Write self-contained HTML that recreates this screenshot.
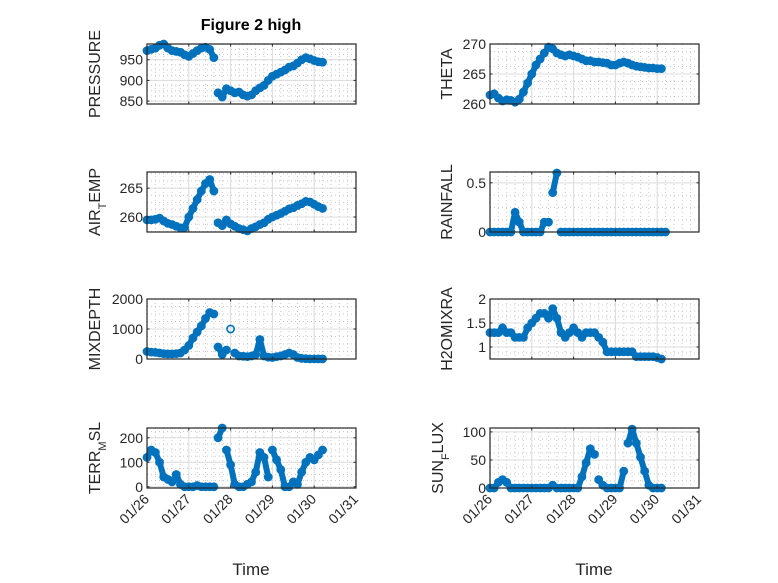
<!DOCTYPE html>
<html><head><meta charset="utf-8"><style>
body{margin:0;background:#fff;}
svg{display:block;font-family:"Liberation Sans","DejaVu Sans",sans-serif;}
</style></head><body>
<svg id="fig" width="778" height="583" viewBox="0 0 778 583">
<text x="251" y="30" text-anchor="middle" font-weight="bold" font-size="16" fill="#000">Figure 2 high</text>
<text x="251" y="575" text-anchor="middle" font-size="17" fill="#262626">Time</text>
<text x="594" y="575" text-anchor="middle" font-size="17" fill="#262626">Time</text>
</svg>
<script>
const xTickLabels = ["01/26","01/27","01/28","01/29","01/30","01/31"];
const pressure = [972,975,978,985,988,978,972,970,968,962,958,965,972,978,980,975,955,870,860,880,875,870,872,865,862,865,875,882,888,900,910,915,920,925,932,935,942,950,955,952,948,945,944];
const theta = [261.5,261.7,261,260.5,260.7,260.6,260.3,260.8,262,263.5,265,266.5,267.5,268.5,269.5,269.2,268.5,268.2,268,268.2,268,267.8,267.5,267.2,267.2,267,267,266.9,266.8,266.5,266.5,266.8,267,266.8,266.5,266.3,266.2,266.1,266,266,265.9,265.9];
const airTemp = [259.5,259.5,259.6,259.8,259.3,258.9,258.7,258.4,258.1,258.2,260,261.5,263,264.5,265.8,266.5,264.5,259,258.5,259.5,258.8,258.4,258,257.8,257.6,258,258.3,258.7,259,259.6,260,260.3,260.6,261,261.4,261.6,262,262.3,262.7,262.6,262.2,261.8,261.5];
const rainfall = [0,0,0,0,0,0,0.2,0.1,0,0,0,0,0,0.1,0.1,0.4,0.6,0,0,0,0,0,0,0,0,0,0,0,0,0,0,0,0,0,0,0,0,0,0,0,0,0,0];
const mixDepth = [250,230,220,200,180,170,170,180,200,300,450,700,900,1100,1350,1550,1500,400,150,300,1000,200,100,90,80,100,150,650,100,60,50,80,100,150,200,150,50,20,10,5,5,5,5];
const h2oMix = [1.3,1.3,1.3,1.4,1.3,1.3,1.2,1.2,1.2,1.4,1.5,1.6,1.7,1.7,1.6,1.8,1.6,1.3,1.2,1.3,1.4,1.3,1.2,1.3,1.3,1.3,1.2,1.1,0.9,0.9,0.9,0.9,0.9,0.9,0.9,0.8,0.8,0.8,0.8,0.8,0.78,0.75];
const terrMsl = [120,150,140,100,40,30,20,50,10,0,0,0,5,0,0,0,0,200,240,150,90,10,0,0,10,20,60,140,120,40,150,110,70,0,0,20,10,60,100,120,110,130,150];
const sunFlux = [0,0,10,15,10,0,0,0,0,0,0,0,0,0,0,5,0,0,0,0,0,0,20,45,70,60,15,5,0,0,0,0,30,80,105,80,55,30,5,0,0,0];
const pressureTicks=[850,900,950], thetaTicks=[260,265,270], airTicks=[260,265], rainTicks=[0,0.5], mixTicks=[0,1000,2000], h2oTicks=[1,1.5,2], terrTicks=[0,100,200], sunTicks=[0,50,100];

const NS="http://www.w3.org/2000/svg";
const svg=document.getElementById('fig');
function mk(tag,attrs,parent){const e=document.createElementNS(NS,tag);for(const k in attrs)e.setAttribute(k,attrs[k]);(parent||svg).appendChild(e);return e;}

const panels=[
 {name:'pressure',x:147,y:44,lab:['PRESSURE'],data:pressure,ticks:pressureTicks,ymin:843,ymax:988},
 {name:'theta',x:490,y:44,lab:['THETA'],data:theta,ticks:thetaTicks,ymin:260,ymax:270},
 {name:'air-temp',x:147,y:172,lab:['AIR','T','EMP'],data:airTemp,ticks:airTicks,ymin:257.4,ymax:267.8},
 {name:'rainfall',x:490,y:172,lab:['RAINFALL'],data:rainfall,ticks:rainTicks,ymin:0,ymax:0.61},
 {name:'mixdepth',x:147,y:299,lab:['MIXDEPTH'],data:mixDepth,ticks:mixTicks,ymin:0,ymax:2000},
 {name:'h2omixra',x:490,y:299,lab:['H2OMIXRA'],data:h2oMix,ticks:h2oTicks,ymin:0.75,ymax:2},
 {name:'terr-msl',x:147,y:428,lab:['TERR','M','SL'],data:terrMsl,ticks:terrTicks,ymin:-5,ymax:240},
 {name:'sun-flux',x:490,y:428,lab:['SUN','F','LUX'],data:sunFlux,ticks:sunTicks,ymin:0,ymax:107},
];
const W=209,H=60,XMAX=5,DT=0.1;
panels.forEach((p,pi)=>{
  const g=mk('g',{});
  
  
  const sx=d=>p.x+d/XMAX*W;
  const sy=v=>p.y+H-(v-p.ymin)/(p.ymax-p.ymin)*H;
  mk('rect',{x:p.x,y:p.y,width:W,height:H,fill:'#fff'},g);
  for(let d=0;d<=XMAX;d+=0.2){const X=sx(d);mk('line',{x1:X,x2:X,y1:p.y,y2:p.y+H,stroke:'#c8c8c8','stroke-dasharray':'1 3','stroke-width':1},g);}
  const step=p.ticks[1]-p.ticks[0];
  for(let v=p.ticks[0]-step;v<=p.ymax;v+=step/4){if(v<p.ymin)continue;const Y=sy(v);mk('line',{x1:p.x,x2:p.x+W,y1:Y,y2:Y,stroke:'#c8c8c8','stroke-dasharray':'1 3','stroke-width':1},g);}
  xTickLabels.forEach((t,i)=>{const X=sx(i);mk('line',{x1:X,x2:X,y1:p.y,y2:p.y+H,stroke:'#dcdcdc','stroke-width':1},g);});
  p.ticks.forEach(v=>{const Y=sy(v);mk('line',{x1:p.x,x2:p.x+W,y1:Y,y2:Y,stroke:'#dcdcdc','stroke-width':1},g);});
  const sg=mk('g',{},g);
  
  
  for(let i=1;i<p.data.length;i++){
    const x1=sx((i-1)*DT),y1=sy(p.data[i-1]),x2=sx(i*DT),y2=sy(p.data[i]);
    if(Math.abs(y2-y1)<20){
      const l=mk('line',{x1:x1,y1:y1,x2:x2,y2:y2,stroke:'#0072BD','stroke-width':6,'stroke-linecap':'round'},sg);
      
      
    }
  }
  p.data.forEach((v,i)=>{
    const c=mk('circle',{cx:sx(i*DT),cy:sy(v),r:3.6,fill:'none',stroke:'#0072BD','stroke-width':1.6},sg);
    
    
  });
  mk('rect',{x:p.x,y:p.y,width:W,height:H,fill:'none',stroke:'#262626','stroke-width':1.2},g);
  xTickLabels.forEach((t,i)=>{const X=sx(i);
    mk('line',{x1:X,x2:X,y1:p.y+H,y2:p.y+H-2.5,stroke:'#262626'},g);
    mk('line',{x1:X,x2:X,y1:p.y,y2:p.y+2.5,stroke:'#262626'},g);
    if(pi>=6){const tx=mk('text',{x:X+3,y:p.y+H+12,'text-anchor':'end','font-size':14,fill:'#262626',transform:`rotate(-45 ${X+3} ${p.y+H+12})`},g);tx.textContent=t;
      
      }
  });
  p.ticks.forEach(v=>{const Y=sy(v);
    mk('line',{x1:p.x,x2:p.x+2.5,y1:Y,y2:Y,stroke:'#262626'},g);
    mk('line',{x1:p.x+W,x2:p.x+W-2.5,y1:Y,y2:Y,stroke:'#262626'},g);
    const tx=mk('text',{x:p.x-4,y:Y+5,'text-anchor':'end','font-size':14,fill:'#262626'},g);tx.textContent=String(v);
    
    
  });
  const lx=p.x-(p.name==='rainfall'||p.name==='h2omixra'||p.name==='theta'?38:47), ly=p.y+H/2;
  const t=mk('text',{x:lx,y:ly,'text-anchor':'middle','font-size':16,fill:'#262626',transform:`rotate(-90 ${lx} ${ly})`},g);
  
  
  if(p.lab.length===1){t.textContent=p.lab[0];}
  else{const a=mk('tspan',{},t);a.textContent=p.lab[0];const b=mk('tspan',{'baseline-shift':'sub','font-size':11},t);b.textContent=p.lab[1];const c=mk('tspan',{'baseline-shift':'0'},t);c.textContent=p.lab[2];}
});
</script>
</body></html>
